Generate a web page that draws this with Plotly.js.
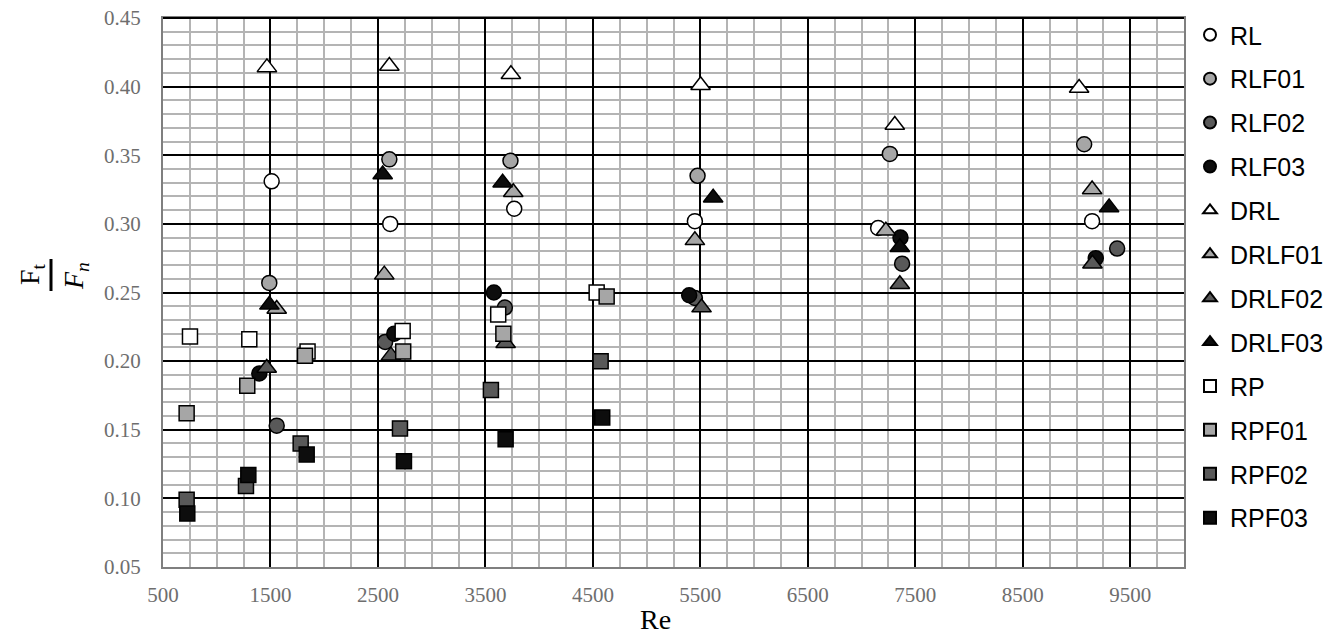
<!DOCTYPE html>
<html>
<head>
<meta charset="utf-8">
<script src="https://cdn.plot.ly/plotly-3.0.1.min.js"></script>
<style>
html,body{margin:0;padding:0;background:#fff;}
#chart{width:1325px;height:637px;}
</style>
</head>
<body>
<div id="chart"></div>
<script>
// ---- data ----
const seriesNames = ["RL","RLF01","RLF02","RLF03","DRL","DRLF01","DRLF02","DRLF03","RP","RPF01","RPF02","RPF03"];

const RL_x     = [1511, 2614, 3768, 5449, 7154, 9145];
const RL_y     = [0.331, 0.300, 0.311, 0.302, 0.297, 0.302];
const RLF01_x  = [1489, 2606, 3733, 5474, 7263, 9071];
const RLF01_y  = [0.257, 0.347, 0.346, 0.335, 0.351, 0.358];
const RLF02_x  = [1558, 2567, 3681, 5449, 7377, 9378];
const RLF02_y  = [0.153, 0.214, 0.239, 0.246, 0.271, 0.282];
const RLF03_x  = [1396, 2652, 3579, 5396, 7362, 9179];
const RLF03_y  = [0.191, 0.220, 0.250, 0.248, 0.290, 0.275];
const DRL_x    = [1467, 2606, 3737, 5502, 7309, 9024];
const DRL_y    = [0.414, 0.415, 0.409, 0.401, 0.372, 0.399];
const DRLF01_x = [1558, 2559, 3759, 5449, 7226, 9145];
const DRLF01_y = [0.238, 0.263, 0.323, 0.288, 0.295, 0.325];
const DRLF02_x = [1465, 2621, 3688, 5511, 7356, 9148];
const DRLF02_y = [0.195, 0.204, 0.213, 0.239, 0.256, 0.271];
const DRLF03_x = [1490, 2544, 3660, 5619, 7356, 9303];
const DRLF03_y = [0.241, 0.336, 0.330, 0.319, 0.283, 0.312];
const RP_x     = [751, 1303, 1845, 2730, 3619, 4535];
const RP_y     = [0.218, 0.216, 0.207, 0.222, 0.234, 0.250];
const RPF01_x  = [720, 1284, 1821, 2735, 3667, 4628];
const RPF01_y  = [0.162, 0.182, 0.204, 0.207, 0.220, 0.247];
const RPF02_x  = [720, 1272, 1781, 2705, 3551, 4572];
const RPF02_y  = [0.099, 0.109, 0.140, 0.151, 0.179, 0.200];
const RPF03_x  = [726, 1294, 1837, 2742, 3688, 4587];
const RPF03_y  = [0.089, 0.117, 0.132, 0.127, 0.143, 0.159];

const xTickVals = [500,1500,2500,3500,4500,5500,6500,7500,8500,9500];
const yTickVals = [0.05,0.10,0.15,0.20,0.25,0.30,0.35,0.40,0.45];

// ---- styles ----
const FILL = {o:"#ffffff", f1:"#a6a6a6", f2:"#595959", f3:"#0d0d0d"};
const seriesData = [
  [RL_x, RL_y, "circle", FILL.o, 15],
  [RLF01_x, RLF01_y, "circle", FILL.f1, 15],
  [RLF02_x, RLF02_y, "circle", FILL.f2, 15],
  [RLF03_x, RLF03_y, "circle", FILL.f3, 15],
  [DRL_x, DRL_y, "triangle-up", FILL.o, 17],
  [DRLF01_x, DRLF01_y, "triangle-up", FILL.f1, 17],
  [DRLF02_x, DRLF02_y, "triangle-up", FILL.f2, 17],
  [DRLF03_x, DRLF03_y, "triangle-up", FILL.f3, 17],
  [RP_x, RP_y, "square", FILL.o, 15],
  [RPF01_x, RPF01_y, "square", FILL.f1, 15],
  [RPF02_x, RPF02_y, "square", FILL.f2, 15],
  [RPF03_x, RPF03_y, "square", FILL.f3, 15]
];

const traces = seriesData.map((s, i) => ({
  type: "scatter",
  mode: "markers",
  name: seriesNames[i],
  legendgroup: "g" + String(i).padStart(2, "0"),
  x: s[0],
  y: s[1],
  marker: {symbol: s[2], color: s[3], size: s[4], line: {color: "#000000", width: 1.5}},
  hoverinfo: "x+y+name"
}));

const L = 163, R = 1184, T = 18, B = 567;
const PW = R - L, PH = B - T;
const px = v => (v - L) / PW;
const py = v => (B - v) / PH;

const serif = "Liberation Serif, Times New Roman, serif";

const layout = {
  width: 1325, height: 637,
  margin: {l: L, r: 1325 - R, t: T, b: 637 - B, pad: 0, autoexpand: false},
  paper_bgcolor: "#ffffff",
  plot_bgcolor: "#ffffff",
  showlegend: true,
  legend: {
    x: px(1190), xanchor: "left",
    y: py(12), yanchor: "top",
    font: {family: "Liberation Sans, Arial, sans-serif", size: 25, color: "#000"},
    itemsizing: "constant",
    tracegroupgap: 8.4,
    traceorder: "grouped",
    maxheight: 625,
    bgcolor: "rgba(0,0,0,0)"
  },
  xaxis: {
    range: [500, 10000],
    tickmode: "array",
    tickvals: xTickVals,
    ticktext: xTickVals.map(String),
    showgrid: true, gridcolor: "#000000", gridwidth: 2,
    minor: {dtick: 250, tick0: 500, showgrid: true, gridcolor: "#b4b4b4", gridwidth: 1.5, ticks: ""},
    zeroline: false,
    showline: true, linecolor: "#7f7f7f", linewidth: 2, mirror: true,
    ticks: "",
    ticklabelstandoff: 8,
    tickfont: {family: serif, size: 21, color: "#6e6e6e"},
    fixedrange: true
  },
  yaxis: {
    range: [0.05, 0.45],
    tickmode: "array",
    tickvals: yTickVals,
    ticktext: yTickVals.map(v => v.toFixed(2)),
    showgrid: true, gridcolor: "#000000", gridwidth: 2,
    minor: {dtick: 0.01, tick0: 0.05, showgrid: true, gridcolor: "#b4b4b4", gridwidth: 1.5, ticks: ""},
    zeroline: false,
    showline: true, linecolor: "#7f7f7f", linewidth: 2, mirror: true,
    ticks: "",
    ticklabelstandoff: 16,
    tickfont: {family: serif, size: 21, color: "#6e6e6e"},
    fixedrange: true
  },
  shapes: [
    {type: "line", xref: "paper", yref: "paper", x0: 0, x1: 1, y0: 1, y1: 1, line: {color: "#000", width: 2}},
    {type: "line", xref: "paper", yref: "paper", x0: px(51), x1: px(51), y0: py(291), y1: py(259), line: {color: "#000", width: 3}}
  ],
  annotations: [
    {text: "Re", xref: "paper", yref: "paper", x: px(655), y: py(619), xanchor: "center", yanchor: "middle",
     showarrow: false, font: {family: serif, size: 28, color: "#000"}},
    {text: "F<sub>t</sub>", xref: "paper", yref: "paper", x: px(31), y: py(274), xanchor: "center", yanchor: "middle",
     textangle: -90, showarrow: false, font: {family: serif, size: 28, color: "#000"}},
    {text: "<i>F<sub>n</sub></i>", xref: "paper", yref: "paper", x: px(75), y: py(276), xanchor: "center", yanchor: "middle",
     textangle: -90, showarrow: false, font: {family: serif, size: 28, color: "#000"}}
  ]
};

Plotly.newPlot("chart", traces, layout, {displayModeBar: false});
</script>
</body>
</html>
